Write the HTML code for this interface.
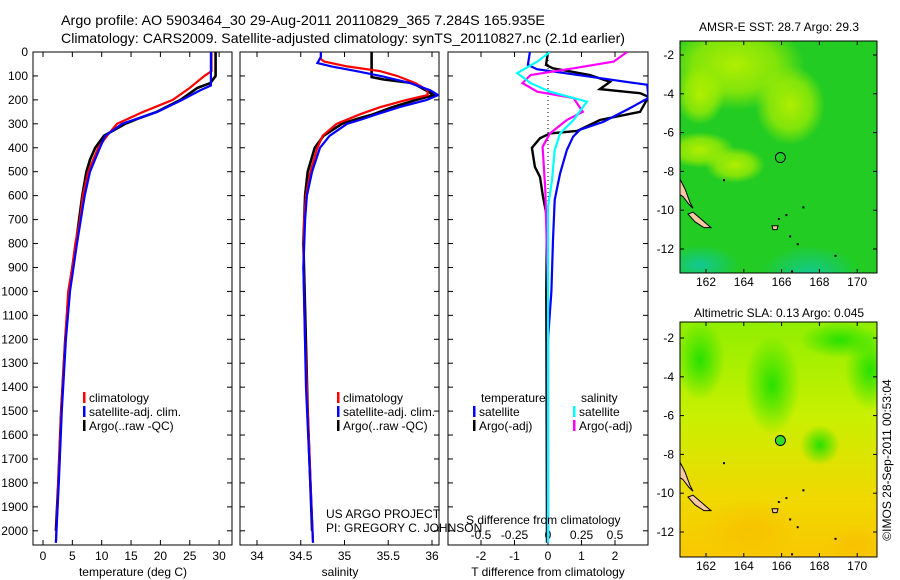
<!DOCTYPE html>
<html><head><meta charset="utf-8"><style>
html,body{margin:0;padding:0;background:#fff;}
svg{display:block;font-family:"Liberation Sans",sans-serif;}
text{fill:#000;}
</style></head><body>
<svg id="chart" width="900" height="580" viewBox="0 0 900 580" xmlns="http://www.w3.org/2000/svg">
<defs>
<radialGradient id="gy1"><stop offset="0" stop-color="#b8f000" stop-opacity="0.95"/><stop offset="0.6" stop-color="#a8ee00" stop-opacity="0.7"/><stop offset="1" stop-color="#a8ee00" stop-opacity="0"/></radialGradient>
<radialGradient id="gt1"><stop offset="0" stop-color="#10c8a0" stop-opacity="0.9"/><stop offset="1" stop-color="#10c8a0" stop-opacity="0"/></radialGradient>
<radialGradient id="go1"><stop offset="0" stop-color="#f8c000" stop-opacity="0.9"/><stop offset="1" stop-color="#f8c000" stop-opacity="0"/></radialGradient>
<radialGradient id="gg1"><stop offset="0" stop-color="#20e000" stop-opacity="0.95"/><stop offset="1" stop-color="#20e000" stop-opacity="0"/></radialGradient>
<linearGradient id="slaBase" x1="0" y1="0" x2="0" y2="1"><stop offset="0" stop-color="#90ee00"/><stop offset="0.4" stop-color="#c8f000"/><stop offset="0.75" stop-color="#f0d800"/><stop offset="1" stop-color="#f8c800"/></linearGradient>
<clipPath id="clipP1"><rect x="33" y="52" width="199" height="493"/></clipPath>
<clipPath id="clipP2"><rect x="240" y="52" width="199" height="493"/></clipPath>
<clipPath id="clipP3"><rect x="448" y="52" width="200" height="493"/></clipPath>
<clipPath id="clipM1"><rect x="680" y="41" width="197" height="232"/></clipPath>
<clipPath id="clipM2"><rect x="680" y="322" width="197" height="235"/></clipPath>
</defs>
<text x="61" y="25" font-size="14" textLength="484" lengthAdjust="spacingAndGlyphs">Argo profile: AO 5903464_30 29-Aug-2011 20110829_365 7.284S 165.935E</text>
<text x="61" y="43" font-size="14" textLength="564" lengthAdjust="spacingAndGlyphs">Climatology: CARS2009. Satellite-adjusted climatology: synTS_20110827.nc (2.1d earlier)</text>
<g id="panels"></g>
<g id="maps"></g>
<text transform="translate(891,460) rotate(-90)" text-anchor="middle" font-size="12">©IMOS 28-Sep-2011 00:53:04</text>
</svg>
<script>
// ---------- data ----------
const depthTicks = [0,100,200,300,400,500,600,700,800,900,1000,1100,1200,1300,1400,1500,1600,1700,1800,1900,2000];
const tempTicks = [0,5,10,15,20,25,30];
const salTicks = [34,34.5,35,35.5,36];
const tdiffTicks = [-2,-1,0,1,2];
const sdiffTicks = [-0.5,-0.25,0,0.25,0.5];

const tClimDepth = [0,80,100,150,200,250,300,350,400,500,600,700,800,900,1000,1200,1500,1800,2050];
const tClimVal   = [28.7,28.7,27.5,25,22.1,17.1,12.6,10.9,9.4,7.7,6.8,6.3,5.5,5.0,4.3,3.8,3.1,2.6,2.2];
const tSatDepth = [0,140,160,200,250,300,350,400,500,600,800,1000,1200,1500,1800,2050];
const tSatVal   = [28.6,28.6,26.8,23.7,19.5,13.5,10.6,9.7,8.0,7.1,5.8,4.6,3.9,3.2,2.7,2.2];
const tArgoDepth = [0,100,130,150,200,250,280,300,350,400,450,500,600,800,1000,1200,1500,1800,2000];
const tArgoVal   = [29.4,29.4,28.5,26.3,23.4,19.4,16,14,10.4,8.9,8.0,7.4,6.7,5.6,4.4,3.8,3.1,2.6,2.2];

const sClimDepth = [0,30,40,60,80,100,130,160,180,200,230,260,300,350,400,500,600,700,900,1200,1500,2050];
const sClimVal   = [34.73,34.73,34.77,35.03,35.41,35.6,35.81,35.95,35.95,35.71,35.41,35.18,34.91,34.75,34.69,34.61,34.56,34.54,34.53,34.55,34.58,34.64];
const sSatDepth = [0,20,46,60,80,100,130,160,180,200,230,260,280,300,350,400,500,600,700,900,1400,2050];
const sSatVal   = [34.73,34.73,34.69,34.85,35.14,35.41,35.75,35.98,36.07,35.94,35.63,35.37,35.21,35.03,34.83,34.72,34.63,34.57,34.55,34.53,34.56,34.64];
const sArgoDepth = [0,105,115,130,160,180,200,230,260,280,300,350,400,500,600,800,1500,2000];
const sArgoVal   = [35.31,35.31,35.45,35.78,35.93,36.02,35.82,35.55,35.33,35.14,34.97,34.76,34.66,34.58,34.55,34.53,34.58,34.63];

const dtSatDepth = [0,54,72,103,137,192,242,292,325,354,410,507,618,785,1000,1200,2050];
const dtSatVal   = [-0.54,-0.6,-0.33,1.25,2.96,3.0,2.35,1.65,0.95,0.75,0.56,0.36,0.2,0.15,0.1,0.0,0.0];
const dtArgoDepth = [0,54,68,96,125,155,172,187,250,284,330,340,360,400,480,522,605,690,1000,2050];
const dtArgoVal   = [0,-0.06,0.15,1.25,1.85,1.55,2.75,3.0,2.75,1.55,0.87,0.06,-0.24,-0.48,-0.39,-0.24,-0.15,-0.03,-0.05,-0.03];
const dsSatDepth = [0,40,88,130,166,207,284,340,410,535,647,2050];
const dsSatVal   = [0.015,-0.08,-0.23,-0.13,0.015,0.29,0.19,0.09,0.05,0.03,0.0,0.0];
const dsArgoDepth = [0,40,68,96,130,166,192,250,284,340,396,576,1000,2050];
const dsArgoVal   = [0.59,0.49,0.19,-0.13,-0.19,-0.08,0.19,0.26,0.14,0.015,-0.04,-0.02,0.0,0.0];

const latTicks = [-2,-4,-6,-8,-10,-12];
const lonTicks = [162,164,166,168,170];

// ---------- scales ----------
const yD = d => 52 + d*0.2394;
const xT = t => 43 + t*5.87;
const xS = s => 257 + (s-34)*87.5;
const xDT = v => 548 + v*33.5;
const xDS = v => 548 + v*134;
const NS='http://www.w3.org/2000/svg';
const panels=document.getElementById('panels');
function mk(tag, attrs, parent){const e=document.createElementNS(NS,tag);for(const k in attrs)e.setAttribute(k,attrs[k]);(parent||panels).appendChild(e);return e;}
function txt(x,y,s,size,anchor,parent){const e=mk('text',{x:x,y:y,'font-size':size,'text-anchor':anchor||'start'},parent);e.textContent=s;return e;}

function frame(x0,x1,name){
  const r=mk('rect',{x:x0,y:52,width:x1-x0,height:493,fill:'#fff',stroke:'#000','stroke-width':1});
  
  
  depthTicks.forEach(d=>{
    mk('line',{x1:x0,x2:x0+5,y1:yD(d),y2:yD(d),stroke:'#000'});
    mk('line',{x1:x1-5,x2:x1,y1:yD(d),y2:yD(d),stroke:'#000'});
  });
}
function line(depths, vals, sx, color, clip, name, w){
  const pts=depths.map((d,i)=>sx(vals[i]).toFixed(1)+','+yD(d).toFixed(1)).join(' ');
  const p=mk('polyline',{points:pts,fill:'none',stroke:color,'stroke-width':w||2.2,'clip-path':'url(#'+clip+')'});
  
  
}
function legendEntry(x,y,color,label,name){
  const g=mk('g',{});
  
  
  mk('rect',{x:x,y:y-10,width:2.5,height:11,fill:color},g);
  txt(x+6,y,label,12,'start',g);
}

// panel 1 temperature
frame(33,232,'temperature-plot-area');
depthTicks.forEach(d=>{const t=txt(28,yD(d)+4,String(d),12,'end');});
tempTicks.forEach(t=>{mk('line',{x1:xT(t),x2:xT(t),y1:52,y2:57,stroke:'#000'});mk('line',{x1:xT(t),x2:xT(t),y1:540,y2:545,stroke:'#000'});const e=txt(xT(t),560,String(t),12,'middle');});
{const e=txt(133,576,'temperature (deg C)',12,'middle');}
line(tArgoDepth,tArgoVal,xT,'#000','clipP1','temp-argo-line',2.6);
line(tClimDepth,tClimVal,xT,'#f00','clipP1','temp-climatology-line');
line(tSatDepth,tSatVal,xT,'#00f','clipP1','temp-satellite-line');
legendEntry(83,402,'#f00','climatology','legend-climatology');
legendEntry(83,416,'#00f','satellite-adj. clim.','legend-satellite-adj');
legendEntry(83,430,'#000','Argo(..raw -QC)','legend-argo');

// panel 2 salinity
frame(240,439,'salinity-plot-area');
salTicks.forEach(s=>{mk('line',{x1:xS(s),x2:xS(s),y1:52,y2:57,stroke:'#000'});mk('line',{x1:xS(s),x2:xS(s),y1:540,y2:545,stroke:'#000'});const e=txt(xS(s),560,String(s),12,'middle');});
{const e=txt(340,576,'salinity',12,'middle');}
line(sArgoDepth,sArgoVal,xS,'#000','clipP2','salinity-argo-line',2.6);
line(sClimDepth,sClimVal,xS,'#f00','clipP2','salinity-climatology-line');
line(sSatDepth,sSatVal,xS,'#00f','clipP2','salinity-satellite-line');
legendEntry(337,402,'#f00','climatology','legend-climatology-2');
legendEntry(337,416,'#00f','satellite-adj. clim.','legend-satellite-adj-2');
legendEntry(337,430,'#000','Argo(..raw -QC)','legend-argo-2');

// panel 3 differences
frame(448,648,'difference-plot-area');
tdiffTicks.forEach(v=>{mk('line',{x1:xDT(v),x2:xDT(v),y1:52,y2:57,stroke:'#000'});mk('line',{x1:xDT(v),x2:xDT(v),y1:540,y2:545,stroke:'#000'});const e=txt(xDT(v),560,String(v),12,'middle');});
sdiffTicks.forEach(v=>{const e=txt(xDS(v),539,String(v),12,'middle');});
mk('line',{x1:548,x2:548,y1:52,y2:545,stroke:'#000','stroke-dasharray':'1,3'});
line(dtArgoDepth,dtArgoVal,xDT,'#000','clipP3','tdiff-argo-line',2.4);
line(dtSatDepth,dtSatVal,xDT,'#00f','clipP3','tdiff-satellite-line');
line(dsArgoDepth,dsArgoVal,xDS,'#f0f','clipP3','sdiff-argo-line');
line(dsSatDepth,dsSatVal,xDS,'#0ff','clipP3','sdiff-satellite-line');
{const e=txt(481,402,'temperature',12);}
{const e=txt(581,402,'salinity',12);}
legendEntry(473,416,'#00f','satellite','legend-temp-satellite');
legendEntry(473,430,'#000','Argo(-adj)','legend-temp-argo');
legendEntry(573,416,'#0ff','satellite','legend-sal-satellite');
legendEntry(573,430,'#f0f','Argo(-adj)','legend-sal-argo');
{const e=txt(466,524,'S difference from climatology',12);}
{const e=txt(548,576,'T difference from climatology',12,'middle');}
{const e=txt(326,518,'US ARGO PROJECT',12);}
{const e=txt(326,532,'PI: GREGORY C. JOHNSON',12);}

// ---------- maps ----------
const maps=document.getElementById('maps');
function mapAxes(top,bottom,latY0,name,clip){
  const xL=lon=>706+(lon-162)*18.9;
  const yL=lat=>latY0+(-2-lat)*19.4;
  mk('rect',{x:680,y:top,width:197,height:bottom-top,fill:'none',stroke:'#000'},maps);
  latTicks.forEach(l=>{const y=yL(l);mk('line',{x1:680,x2:684,y1:y,y2:y,stroke:'#000'},maps);mk('line',{x1:873,x2:877,y1:y,y2:y,stroke:'#000'},maps);const e=txt(674,y+4,String(l),12,'end',maps);});
  lonTicks.forEach(l=>{const x=xL(l);mk('line',{x1:x,x2:x,y1:top,y2:top+4,stroke:'#000'},maps);mk('line',{x1:x,x2:x,y1:bottom-4,y2:bottom,stroke:'#000'},maps);const e=txt(x,bottom+13,String(l),12,'middle',maps);});
  return {xL,yL};
}
function islands(yL,xL,g){
  const c='#f8c8a0';
  mk('path',{d:`M680,${yL(-8.4)} L685,${yL(-8.9)} L690,${yL(-9.6)} L693,${yL(-9.9)} L689,${yL(-9.7)} L683,${yL(-9.3)} L680,${yL(-9.2)} Z`,fill:c,stroke:'#000','stroke-width':1},g);
  mk('path',{d:`M688,${yL(-10.2)} L693,${yL(-10.1)} L702,${yL(-10.5)} L711,${yL(-10.9)} L704,${yL(-10.9)} L695,${yL(-10.6)} Z`,fill:c,stroke:'#000','stroke-width':1},g);
  mk('path',{d:`M772,${yL(-10.8)} L778,${yL(-10.8)} L777,${yL(-11)} L773,${yL(-11)} Z`,fill:c,stroke:'#000'},g);
  [[162.9,-8.4],[165.8,-10.4],[166.2,-10.2],[167.1,-9.8],[166.4,-11.3],[166.8,-11.7],[168.8,-12.3],[166.5,-13.1]].forEach(p=>mk('rect',{x:xL(p[0]),y:yL(p[1]),width:2,height:2,fill:'#000'},g));
}
// top SST map
{
  const g=mk('g',{'clip-path':'url(#clipM1)'},maps);
  
  
  mk('rect',{x:680,y:41,width:197,height:232,fill:'#22cc22'},g);
  mk('ellipse',{cx:735,cy:65,rx:70,ry:45,fill:'url(#gy1)'},g);
  mk('ellipse',{cx:790,cy:105,rx:35,ry:40,fill:'url(#gy1)'},g);
  mk('ellipse',{cx:700,cy:95,rx:25,ry:30,fill:'url(#gy1)'},g);
  mk('ellipse',{cx:700,cy:150,rx:35,ry:18,fill:'url(#gy1)'},g);
  mk('ellipse',{cx:735,cy:165,rx:30,ry:18,fill:'url(#gy1)'},g);
  mk('ellipse',{cx:810,cy:275,rx:50,ry:30,fill:'url(#gt1)'},g);
  mk('ellipse',{cx:700,cy:265,rx:40,ry:20,fill:'url(#gt1)'},g);
  const ax=mapAxes(41,273,55,'sst-map',g);
  islands(ax.yL,ax.xL,g);
  const m=mk('circle',{cx:ax.xL(165.935),cy:ax.yL(-7.284),r:5,fill:'none',stroke:'#000'},g);
  
  
  const t=txt(779,31,'AMSR-E SST: 28.7 Argo: 29.3',12,'middle',maps);
  
  
}
// bottom SLA map
{
  const g=mk('g',{'clip-path':'url(#clipM2)'},maps);
  
  
  mk('rect',{x:680,y:322,width:197,height:235,fill:'url(#slaBase)'},g);
  mk('ellipse',{cx:772,cy:385,rx:28,ry:50,fill:'url(#gg1)'},g);
  mk('ellipse',{cx:700,cy:360,rx:25,ry:40,fill:'url(#gg1)'},g);
  mk('ellipse',{cx:870,cy:370,rx:25,ry:40,fill:'url(#gg1)'},g);
  mk('ellipse',{cx:840,cy:340,rx:40,ry:18,fill:'url(#gg1)'},g);
  mk('ellipse',{cx:820,cy:445,rx:20,ry:20,fill:'url(#gg1)'},g);
  mk('ellipse',{cx:750,cy:530,rx:50,ry:30,fill:'url(#go1)'},g);
  mk('ellipse',{cx:855,cy:545,rx:30,ry:20,fill:'url(#go1)'},g);
  const ax=mapAxes(322,557,338,'sla-map',g);
  islands(ax.yL,ax.xL,g);
  const m=mk('circle',{cx:ax.xL(165.935),cy:ax.yL(-7.284),r:5,fill:'#33dd22',stroke:'#000'},g);
  
  
  const t=txt(779,317,'Altimetric SLA: 0.13 Argo: 0.045',12,'middle',maps);
  
  
}
</script>
</body></html>
